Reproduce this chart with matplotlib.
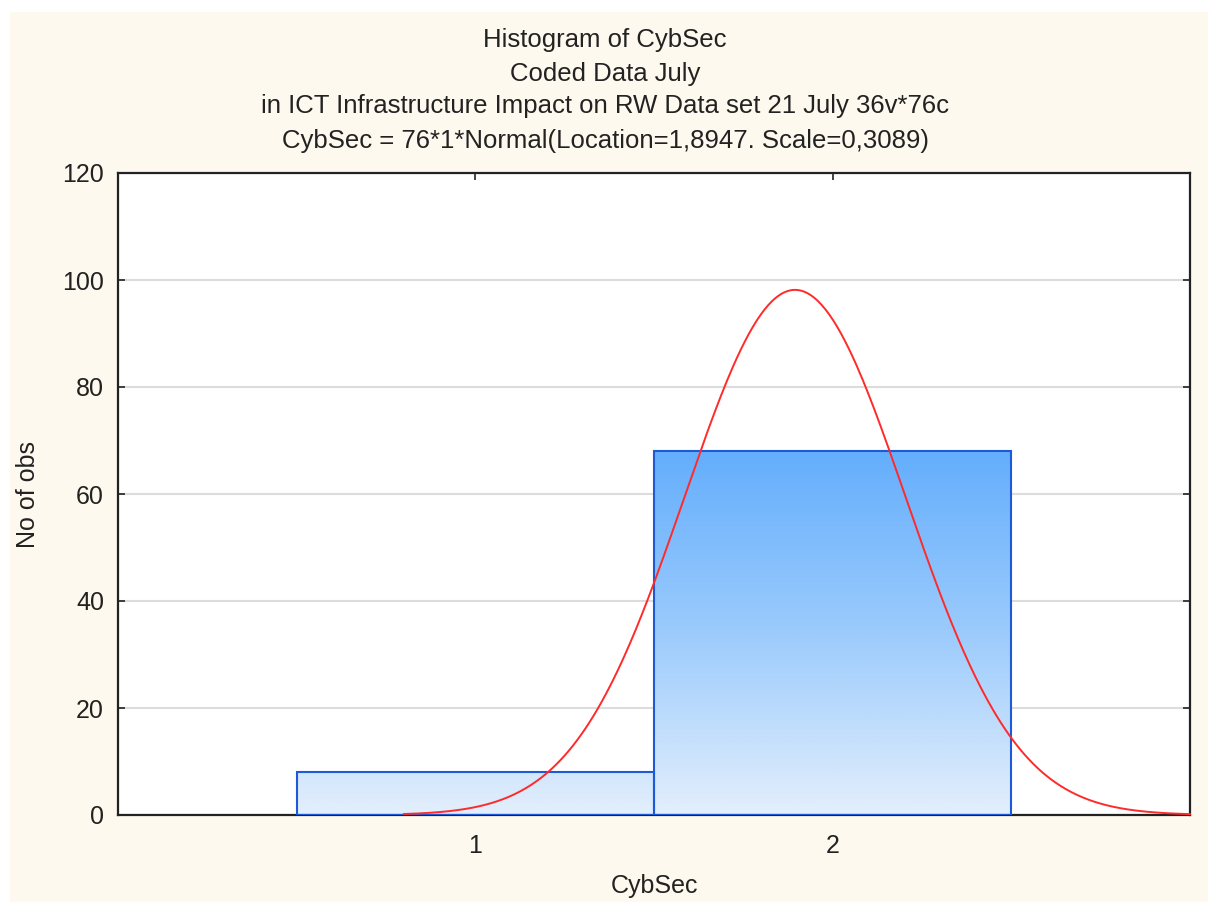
import numpy as np
import matplotlib.pyplot as plt
from matplotlib.colors import LinearSegmentedColormap
from matplotlib.patches import Rectangle

plt.rcParams['font.family'] = ['Liberation Sans', 'DejaVu Sans']

# data
categories = [1, 2]
counts = [8, 68]
bin_width = 1.0
n_obs = 76
location = 1.8947
scale = 0.3089
title_lines = ["Histogram of CybSec",
               "Coded Data July",
               "in ICT Infrastructure Impact on RW Data set 21 July 36v*76c",
               "CybSec = 76*1*Normal(Location=1,8947. Scale=0,3089)"]

fig = plt.figure(figsize=(12.08, 9.02), dpi=100)
fig.patch.set_facecolor('white')
bg = Rectangle((10 / 1208, 0), 1, 1 - 12 / 902, transform=fig.transFigure,
               facecolor='#FEF9EE', edgecolor='none', zorder=-10)
fig.patches.append(bg)

ax = fig.add_axes([118 / 1208, 1 - 815 / 902, (1190 - 118) / 1208, (815 - 173) / 902])
ax.set_facecolor('white')
ax.set_xlim(0, 3)
ax.set_ylim(0, 120)

# gradient filled bars
cmap = LinearSegmentedColormap.from_list('blu', ['#E3EFFC', '#9CCBFC', '#64AEFD'])
grad = np.linspace(0, 1, 256).reshape(-1, 1)
for c, h in zip(categories, counts):
    x0 = c - bin_width / 2
    im = ax.imshow(grad, cmap=cmap, origin='lower', aspect='auto',
                   extent=(x0, x0 + bin_width, 0, max(counts)), zorder=2)
    rect = Rectangle((x0, 0), bin_width, h, facecolor='none',
                     edgecolor='#1C5AD8', linewidth=1.5, zorder=3)
    ax.add_patch(rect)
    im.set_clip_path(rect)

# fitted normal curve
xs = np.linspace(0.8, 3.0, 400)
ys = n_obs * bin_width * np.exp(-0.5 * ((xs - location) / scale) ** 2) / (scale * np.sqrt(2 * np.pi))
ax.plot(xs, ys, color='#FF2A2A', linewidth=1.4, zorder=4, clip_on=False)

ax.set_xticks(categories)
ax.set_yticks(np.arange(0, 121, 20))
ax.yaxis.grid(True, color='#DCDCDC', linewidth=1.5, zorder=0)
ax.set_axisbelow(True)
ax.tick_params(direction='in', length=5, width=1.2, top=True, right=True,
               labelsize=18, colors='#222222', pad=10)
ax.tick_params(axis='x', pad=14)
for s in ax.spines.values():
    s.set_linewidth(1.6)
    s.set_color('#222222')

ax.set_ylabel('No of obs', fontsize=18, color='#222222', labelpad=16)
fig.text(655 / 1208, 1 - 886 / 902, 'CybSec', ha='center', va='center',
         fontsize=18, color='#222222')

ys_title = [40, 74, 106, 141]
for t, yp in zip(title_lines, ys_title):
    fig.text(605 / 1208, 1 - yp / 902, t, ha='center', va='center',
             fontsize=18.5, color='#222222')

fig.savefig('out.png', dpi=100, facecolor=fig.get_facecolor())
